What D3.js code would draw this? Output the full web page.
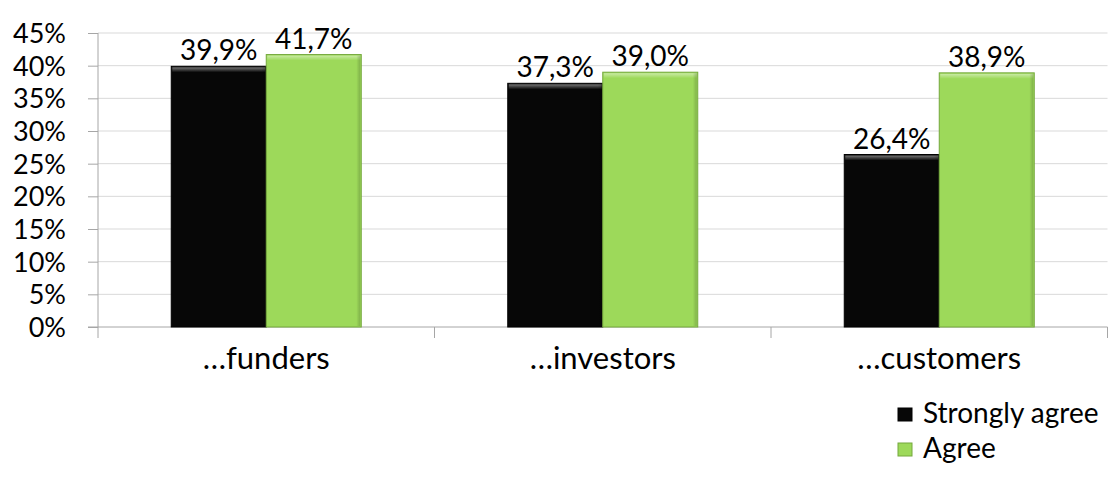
<!DOCTYPE html>
<html>
<head>
<meta charset="utf-8">
<script src="https://cdn.jsdelivr.net/npm/d3@7"></script>
<style>
  body { margin: 0; background: #fff; }
  text { font-family: Lato, "Open Sans", sans-serif; fill: #000; }
</style>
</head>
<body>
<svg id="chart" width="1114" height="477"></svg>
<script>
var categories = ["…funders", "…investors", "…customers"];
var seriesNames = ["Strongly agree", "Agree"];
var stronglyAgree = [39.9, 37.3, 26.4];
var agree = [41.7, 39.0, 38.9];
var yTicks = [0, 5, 10, 15, 20, 25, 30, 35, 40, 45];
var colors = ["#070707", "#9dd95a"];
var strokes = ["#000000", "#74a83c"];

var svg = d3.select("#chart");
var mLeft = 98, mRight = 1107.5, mTop = 33, mBottom = 327;

var x = d3.scaleBand().domain(categories).range([mLeft, mRight]);
var y = d3.scaleLinear().domain([0, 45]).range([mBottom, mTop]);
var barW = 95;

// grid
svg.append("g").selectAll("line").data(yTicks.slice(1)).enter().append("line")
  .attr("x1", mLeft).attr("x2", mRight)
  .attr("y1", function (d) { return y(d); }).attr("y2", function (d) { return y(d); })
  .attr("stroke", "#d9d9d9").attr("stroke-width", 1);

// y axis
var yAxis = d3.axisLeft(y).tickValues(yTicks).tickSize(10).tickPadding(22)
  .tickFormat(function (d) { return d + "%"; });
var gy = svg.append("g").attr("transform", "translate(" + mLeft + ",0)").call(yAxis);
gy.select(".domain").remove();
gy.selectAll("line").attr("stroke", "#a6a6a6");
gy.selectAll("text").style("font-size", "27px").attr("dy", "0.35em")
  .style("font-family", "Lato, sans-serif").attr("fill", "#000");
svg.append("line").attr("x1", mLeft).attr("x2", mLeft).attr("y1", mTop).attr("y2", mBottom + 11)
  .attr("stroke", "#a6a6a6");

// x axis
svg.append("line").attr("x1", mLeft - 10).attr("x2", mRight).attr("y1", mBottom).attr("y2", mBottom)
  .attr("stroke", "#a6a6a6");
svg.append("g").selectAll("line").data(categories).enter().append("line")
  .attr("x1", function (d) { return x(d) + x.bandwidth(); })
  .attr("x2", function (d) { return x(d) + x.bandwidth(); })
  .attr("y1", mBottom).attr("y2", mBottom + 11).attr("stroke", "#a6a6a6");
svg.append("g").selectAll("text").data(categories).enter().append("text")
  .attr("x", function (d) { return x(d) + x.bandwidth() / 2; })
  .attr("y", 369).attr("text-anchor", "middle").style("font-size", "31px")
  .text(function (d) { return d; });

// bevel gradients
var defs = svg.append("defs");
var bt = defs.append("linearGradient").attr("id", "bevelTop").attr("x1", 0).attr("y1", 0).attr("x2", 0).attr("y2", 1);
bt.append("stop").attr("offset", "0%").attr("stop-color", "#fff").attr("stop-opacity", 0.45);
bt.append("stop").attr("offset", "100%").attr("stop-color", "#fff").attr("stop-opacity", 0);
var bs = defs.append("linearGradient").attr("id", "bevelSide").attr("x1", 0).attr("y1", 0).attr("x2", 1).attr("y2", 0);
bs.append("stop").attr("offset", "0%").attr("stop-color", "#000").attr("stop-opacity", 0.0);
bs.append("stop").attr("offset", "100%").attr("stop-color", "#000").attr("stop-opacity", 0.18);

var series = [stronglyAgree, agree];
series.forEach(function (vals, s) {
  var g = svg.append("g");
  var bx = function (d, i) { return x(categories[i]) + x.bandwidth() / 2 - barW + s * barW; };
  g.selectAll("rect.bar").data(vals).enter().append("rect").attr("class", "bar")
    .attr("x", bx).attr("width", barW)
    .attr("y", function (d) { return y(d); })
    .attr("height", function (d) { return mBottom - y(d); })
    .attr("fill", colors[s]).attr("stroke", strokes[s]).attr("stroke-width", 1);
  g.selectAll("rect.bt").data(vals).enter().append("rect").attr("class", "bt")
    .attr("x", function (d, i) { return bx(d, i) + 1; }).attr("width", barW - 2)
    .attr("y", function (d) { return y(d) + 1; }).attr("height", 5)
    .attr("fill", "url(#bevelTop)");
  g.selectAll("rect.bs").data(vals).enter().append("rect").attr("class", "bs")
    .attr("x", function (d, i) { return bx(d, i) + barW - 5; }).attr("width", 4)
    .attr("y", function (d) { return y(d) + 1; })
    .attr("height", function (d) { return mBottom - y(d) - 2; })
    .attr("fill", "url(#bevelSide)");
  g.selectAll("text").data(vals).enter().append("text")
    .attr("x", function (d, i) { return bx(d, i) + barW / 2; })
    .attr("y", function (d) { return y(d) - 6; })
    .attr("text-anchor", "middle").style("font-size", "28px")
    .text(function (d) { return d.toFixed(1).replace(".", ",") + "%"; });
});

// legend
var leg = svg.append("g").selectAll("g").data(seriesNames).enter().append("g")
  .attr("transform", function (d, i) { return "translate(898," + (408 + i * 35) + ")"; });
leg.append("rect").attr("width", 14).attr("height", 13)
  .attr("fill", function (d, i) { return colors[i]; })
  .attr("stroke", function (d, i) { return strokes[i]; });
leg.append("text").attr("x", 25).attr("y", 15).style("font-size", "28px")
  .text(function (d) { return d; });
</script>
</body>
</html>
